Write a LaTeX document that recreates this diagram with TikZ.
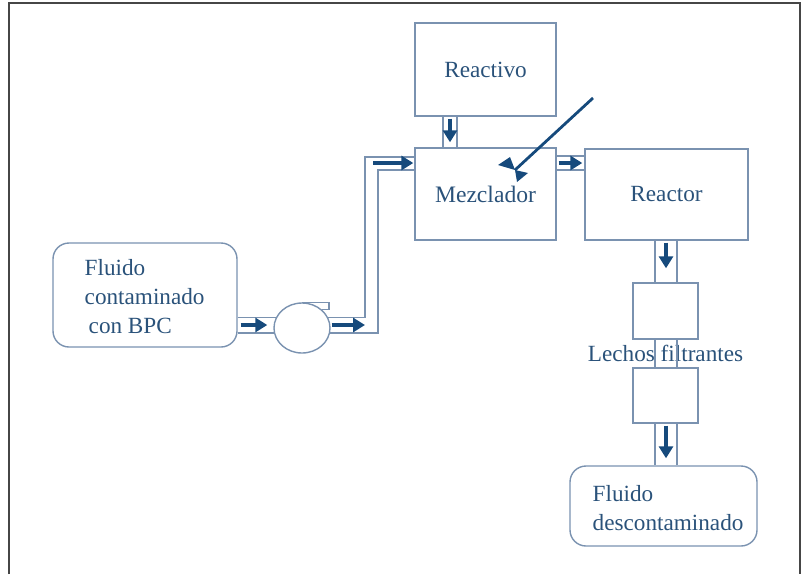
\documentclass[tikz,border=0pt]{standalone}
\usepackage{fontspec}
\setmainfont{Liberation Serif}
\usetikzlibrary{calc,arrows.meta,shapes.geometric}
\definecolor{linecol}{RGB}{122,146,176}
\definecolor{textcol}{RGB}{42,82,122}
\definecolor{flowcol}{RGB}{22,74,124}
\definecolor{framecol}{RGB}{70,70,70}
\begin{document}
\begin{tikzpicture}[x=0.5pt,y=-0.5pt,
  box/.style={draw=linecol,line width=0.7pt,text=textcol,inner sep=0pt,font=\fontsize{11.6}{14.5}\selectfont},
  rbox/.style={box,rounded corners=8pt},
  pipe/.style={draw=linecol,line width=0.6pt},
  flow/.style={draw=flowcol,line width=1.6pt,-{Triangle[length=6pt,width=7pt]}},
  boxtext/.style={text=textcol,font=\fontsize{11.6}{14.5}\selectfont,align=left,inner sep=0pt}]
\useasboundingbox (0,0) rectangle (802,574);
\draw[framecol,line width=1pt] (9,574) -- (9,3) -- (800,3) -- (800,574);

\node[box,minimum width=70.5pt,minimum height=46.5pt] (reactivo) at (485.5,69.5) {Reactivo};
\node[box,minimum width=70.5pt,minimum height=46pt,font=\fontsize{11.8}{15}\selectfont] (mezclador) at (485.5,194) {\raisebox{-1.5pt}{Mezclador}};
\node[box,minimum width=81.5pt,minimum height=45.5pt] (reactor) at (666.5,194.5) {\raisebox{-1.5pt}{Reactor}};
\node[rbox,minimum width=92pt,minimum height=52pt] (contam) at (145,295) {};
\node[boxtext,anchor=west] (contamtxt) at ($(contam.west)+(32,2)$) {Fluido\\contaminado\\\hspace{2pt}con BPC};
\node[ellipse,draw=linecol,line width=0.7pt,minimum width=28pt,minimum height=25pt,inner sep=0pt] (pump) at (302,328) {};
\node[box,minimum width=32.5pt,minimum height=28pt] (filtA) at (665.5,311) {};
\node[box,minimum width=32.5pt,minimum height=27.5pt] (filtB) at (665.5,395.5) {};
\node[rbox,minimum width=93.5pt,minimum height=40pt] (descontam) at (663.5,506) {};
\node[boxtext,anchor=west] (descontxt) at ($(descontam.west)+(23,2)$) {Fluido\\descontaminado};
\node[boxtext] (lechos) at ($(filtA.south)!0.5!(filtB.north)$) {Lechos filtrantes};

\coordinate (riseA) at (365,157);
\coordinate (riseB) at (378,170);
\coordinate (feedL) at (443,0);
\coordinate (feedR) at (457,0);
\coordinate (feedM) at (450,0);
\coordinate (mixA) at (0,156);
\coordinate (mixB) at (0,170);
\coordinate (mixM) at (0,163);
\coordinate (bedL) at (655,0);
\coordinate (bedR) at (677,0);
\coordinate (bedM) at (666,0);
\coordinate (vtop) at (593,98);
\coordinate (vtip) at (515,170);

\draw[pipe] (pump.north) -- ++(27,0) -- ++(0,7) -- ++(-7,0);
\draw[pipe] (contam.east |- pump.159) -- (pump.159);
\draw[pipe] (contam.east |- pump.190) -- (pump.190);
\draw[pipe] (pump.21) -| (riseA) -- (riseA -| mezclador.west);
\draw[pipe] (pump.350) -| (riseB) -- (riseB -| mezclador.west);
\draw[pipe] (reactivo.south -| feedL) -- (mezclador.north -| feedL);
\draw[pipe] (reactivo.south -| feedR) -- (mezclador.north -| feedR);
\draw[pipe] (mezclador.east |- mixA) -- (reactor.west |- mixA);
\draw[pipe] (mezclador.east |- mixB) -- (reactor.west |- mixB);
\draw[pipe] (reactor.south -| bedL) -- (filtA.north -| bedL) (filtA.south -| bedL) -- (filtB.north -| bedL) (filtB.south -| bedL) -- (descontam.north -| bedL);
\draw[pipe] (reactor.south -| bedR) -- (filtA.north -| bedR) (filtA.south -| bedR) -- (filtB.north -| bedR) (filtB.south -| bedR) -- (descontam.north -| bedR);

\draw[flow] ($(contam.east |- pump)+(3,-3)$) -- ($(pump.west)+(-6,-3)$);
\draw[flow] ($(pump.east)+(1,-3)$) -- ($(riseA |- pump.east)+(0,-3)$);
\draw[flow] ($(riseA)+(8,6)$) -- ($(riseA -| mezclador.west)+(-1,6)$);
\draw[flow] ($(reactivo.south -| feedM)+(0,2)$) -- ($(mezclador.north -| feedM)+(0,-5)$);
\draw[flow] ($(mezclador.east |- mixM)+(2,0)$) -- ($(reactor.west |- mixM)+(-2,0)$);
\draw[flow] ($(reactor.south -| bedM)+(0,2)$) -- ($(filtA.north -| bedM)+(0,-14)$);
\draw[flow] ($(filtB.south -| bedM)+(0,2)$) -- ($(descontam.north -| bedM)+(0,-7)$);

\draw[flowcol,line width=1.4pt] (vtop) -- (vtip);
\fill[flowcol] (vtip) -- ($(vtip)+(-17,-5)$) -- ($(vtip)+(-5,-13)$) -- cycle;
\fill[flowcol] (vtip) -- ($(vtip)+(2,12)$) -- ($(vtip)+(13,3)$) -- cycle;
\end{tikzpicture}
\end{document}
